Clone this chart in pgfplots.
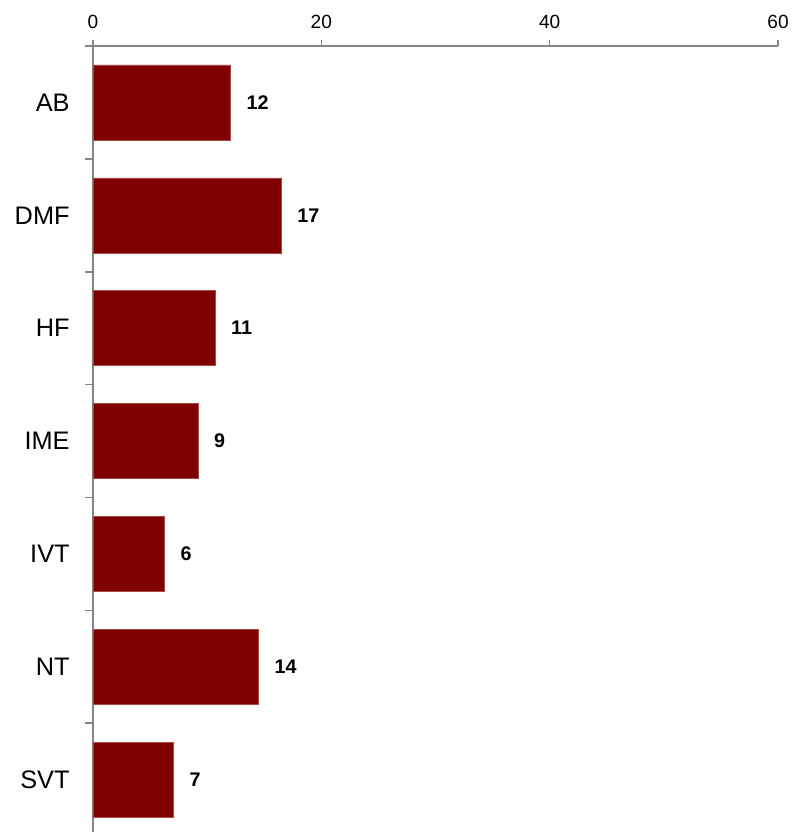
\documentclass[border=0pt]{standalone}
\usepackage{fontspec}
\setmainfont{Liberation Sans}
\usepackage{pgfplots}
\pgfplotsset{compat=1.18}

\definecolor{barred}{HTML}{800000}
\definecolor{baredge}{HTML}{A84848}
\definecolor{axgray}{HTML}{868686}

\begin{document}
\begin{tikzpicture}
  \begin{axis}[
      name=ax,
      scale only axis,
      width=513.75pt,
      height=589.5pt,
      xbar,
      bar width=56.25pt,
      y dir=reverse,
      xmin=0, xmax=60,
      ymin=-0.5, ymax=6.464,
      axis x line*=top,
      axis y line*=left,
      axis line style={axgray, line width=1.2pt},
      every tick/.style={axgray, line width=1.2pt},
      tick align=outside,
      xtick={0,20,40,60},
      major tick length=4.5pt,
      minor tick length=6pt,
      ytick={0,1,2,3,4,5,6},
      yticklabels={AB,DMF,HF,IME,IVT,NT,SVT},
      minor ytick={-0.5,0.5,1.5,2.5,3.5,4.5,5.5},
      major y tick style={draw=none},
      /pgf/number format/assume math mode=true,
      xticklabel style={font=\fontsize{14.3}{17}\selectfont, yshift=5pt},
      yticklabel style={font=\fontsize{19}{22}\selectfont, xshift=-9.5pt},
      nodes near coords={\pgfplotspointmeta},
      point meta=explicit symbolic,
      every node near coord/.append style={
        font=\bfseries\fontsize{14.8}{17}\selectfont,
        text=black, anchor=west, xshift=8.5pt},
      clip=false,
    ]
    \addplot[fill=barred, draw=baredge, line width=0.4pt] coordinates {
      (12.05,0) [12]
      (16.5,1)  [17]
      (10.7,2)  [11]
      (9.2,3)   [9]
      (6.26,4)  [6]
      (14.5,5)  [14]
      (7.05,6)  [7]
    };
  \end{axis}
  \pgfresetboundingbox
  \path[use as bounding box] ([xshift=-69.75pt]ax.south west)
    rectangle ([xshift=10.5pt, yshift=34.5pt]ax.north east);
\end{tikzpicture}
\end{document}
